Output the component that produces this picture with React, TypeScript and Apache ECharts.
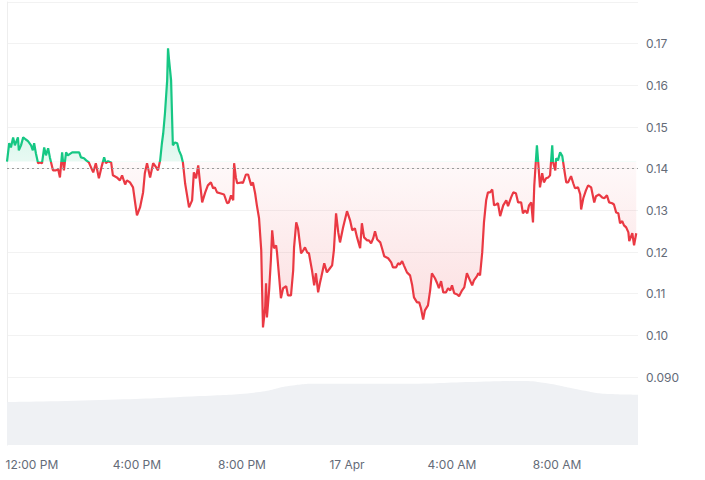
import React, { useEffect, useRef } from "react";
import * as echarts from "echarts";

// minutes since the first sample (≈11:03 AM, 16 Apr)
const priceMinutes = [
  0, 5, 9, 14, 18, 25, 27, 32, 37, 43, 48, 55, 59, 62, 66, 71, 75, 80, 85, 89, 94, 98, 105, 112, 117, 121, 126, 130, 135, 139,
  149, 158, 165, 169, 176, 181, 187, 197, 203, 210, 217, 222, 226, 231, 238, 242, 251, 258, 263, 270, 274, 281, 288, 293, 297, 304, 311, 315, 320, 327,
  334, 341, 345, 350, 354, 357, 361, 366, 368, 370, 375, 377, 379, 384, 389, 393, 398, 402, 407, 416, 423, 427, 432, 437, 441, 446, 453, 459, 466, 471,
  475, 480, 487, 496, 503, 507, 512, 517, 519, 523, 526, 537, 539, 546, 551, 558, 562, 567, 571, 576, 581, 583, 585, 590, 592, 594, 599, 603, 606, 610,
  615, 617, 622, 626, 631, 638, 642, 649, 654, 656, 661, 665, 672, 677, 681, 686, 690, 697, 702, 706, 711, 715, 718, 725, 731, 738, 743, 747, 752, 757,
  761, 768, 777, 784, 789, 795, 800, 807, 811, 816, 823, 827, 832, 837, 841, 846, 853, 857, 862, 871, 878, 882, 889, 894, 898, 903, 907, 914, 921, 926,
  930, 937, 942, 946, 951, 955, 962, 967, 971, 978, 983, 987, 992, 997, 1003, 1008, 1013, 1017, 1022, 1029, 1033, 1040, 1045, 1051, 1058, 1063, 1067, 1074, 1077, 1081,
  1086, 1090, 1095, 1099, 1104, 1109, 1113, 1118, 1122, 1127, 1134, 1141, 1145, 1152, 1157, 1163, 1168, 1175, 1179, 1184, 1189, 1193, 1198, 1202, 1205, 1209, 1211, 1214, 1218, 1223,
  1227, 1232, 1237, 1241, 1246, 1248, 1253, 1255, 1259, 1264, 1269, 1273, 1278, 1282, 1289, 1294, 1298, 1305, 1310, 1312, 1317, 1323, 1328, 1335, 1342, 1346, 1353, 1360, 1365, 1371,
  1376, 1383, 1387, 1392, 1397, 1401, 1406, 1410, 1415, 1420, 1422, 1429, 1433, 1438,
];

const prices = [
  0.1417, 0.1461, 0.1451, 0.1475, 0.1456, 0.1475, 0.1444, 0.1456, 0.1475, 0.147, 0.1466, 0.1456, 0.1444, 0.1461, 0.1437, 0.1413, 0.1415, 0.1413, 0.1451, 0.1432,
  0.1449, 0.1427, 0.1396, 0.1396, 0.1398, 0.1379, 0.1439, 0.1396, 0.1439, 0.1432,
  0.1439, 0.1439, 0.1439, 0.1427, 0.1425, 0.142, 0.1415, 0.1391, 0.1413, 0.1377, 0.1408, 0.1427, 0.1413, 0.1418, 0.1415, 0.1384, 0.1379, 0.1372, 0.1384, 0.1362,
  0.1372, 0.1367, 0.1355, 0.1317, 0.1288, 0.1307, 0.1343, 0.1389, 0.1413, 0.1379,
  0.1413, 0.1403, 0.1396, 0.142, 0.1461, 0.1485, 0.1533, 0.1612, 0.1689, 0.1665, 0.1612, 0.1533, 0.1456, 0.1463, 0.1461, 0.1444, 0.1432, 0.1415, 0.1365, 0.1307,
  0.1324, 0.1391, 0.1377, 0.1408, 0.1367, 0.1319, 0.1343, 0.136, 0.1367, 0.1353,
  0.1355, 0.1343, 0.1341, 0.1338, 0.1317, 0.1319, 0.1336, 0.1324, 0.1413, 0.1379, 0.1365, 0.1367, 0.1365, 0.1386, 0.1386, 0.136, 0.1367, 0.1341, 0.1312, 0.1281,
  0.1204, 0.1108, 0.1019, 0.1067, 0.1125, 0.1043, 0.1108, 0.118, 0.1252, 0.1209,
  0.1216, 0.1199, 0.1139, 0.1089, 0.1113, 0.1118, 0.1096, 0.1096, 0.1156, 0.1211, 0.1271, 0.1257, 0.1197, 0.1204, 0.1211, 0.1199, 0.1197, 0.1156, 0.112, 0.1149,
  0.1103, 0.1125, 0.1139, 0.1173, 0.1151, 0.1161, 0.1168, 0.1204, 0.1293, 0.1247,
  0.1223, 0.1259, 0.1298, 0.1276, 0.1252, 0.1257, 0.1235, 0.1209, 0.1269, 0.1235, 0.1228, 0.1228, 0.1221, 0.1233, 0.125, 0.123, 0.1223, 0.1209, 0.119, 0.1185,
  0.1175, 0.1163, 0.1163, 0.1173, 0.117, 0.1178, 0.1168, 0.1151, 0.1144, 0.112,
  0.1091, 0.1079, 0.1079, 0.1065, 0.1038, 0.106, 0.1072, 0.1108, 0.1149, 0.1137, 0.1125, 0.1113, 0.113, 0.1103, 0.1103, 0.1113, 0.1108, 0.112, 0.1101, 0.1098,
  0.1094, 0.1108, 0.1115, 0.1149, 0.1132, 0.112, 0.1132, 0.1142, 0.1149, 0.1144,
  0.1199, 0.1271, 0.1324, 0.1343, 0.1343, 0.135, 0.1312, 0.1314, 0.1317, 0.1286, 0.1312, 0.1324, 0.131, 0.1331, 0.1343, 0.1341, 0.1319, 0.1319, 0.1293, 0.13,
  0.1293, 0.1312, 0.1319, 0.1271, 0.136, 0.1425, 0.1456, 0.1415, 0.1355, 0.1389,
  0.1367, 0.1377, 0.1379, 0.1384, 0.1456, 0.1415, 0.1396, 0.1425, 0.142, 0.1439, 0.143, 0.1401, 0.1367, 0.1367, 0.1382, 0.1365, 0.1353, 0.1355, 0.1338, 0.1302,
  0.1329, 0.1348, 0.136, 0.1355, 0.1319, 0.1334, 0.1338, 0.1331, 0.1329, 0.1336,
  0.1319, 0.1317, 0.1314, 0.1295, 0.1293, 0.1269, 0.1274, 0.1264, 0.1259, 0.1247, 0.1226, 0.1245, 0.1216, 0.1245,
];

const volumeMinutes = [0, 213, 441, 578, 647, 715, 898, 1081, 1173, 1230, 1310, 1378, 1442];
const volumes = [63, 66, 72, 78, 87, 90, 90, 93, 94, 91, 81, 75, 74];

const windowEnd = 1442;
const tickMinutes = [57, 297, 537, 777, 1017, 1257];
const tickLabels = ["12:00 PM", "4:00 PM", "8:00 PM", "17 Apr", "4:00 AM", "8:00 AM"];

const GREEN = "#16c784";
const RED = "#ea3943";

export default function App() {
  const ref = useRef<HTMLDivElement>(null);

  useEffect(() => {
    if (!ref.current) return;
    const chart = echarts.init(ref.current, undefined, { renderer: "svg" });
    const base = prices[0];
    const maxP = Math.max(...prices);
    const minP = Math.min(...prices);
    const frac = (maxP - base) / (maxP - minP);
    const priceData = priceMinutes.map((m, i) => [m, prices[i]]);
    const volData = volumeMinutes.map((m, i) => [m, volumes[i]]);
    const font = "Inter, 'Noto Sans', sans-serif";

    chart.setOption({
      animation: false,
      grid: [
        { left: 7, right: 67, top: 2, bottom: 103 },
        { left: 7, right: 67, top: 377, bottom: 35 },
      ],
      xAxis: [
        { type: "value", gridIndex: 0, min: 0, max: windowEnd, show: false },
        {
          type: "value",
          gridIndex: 1,
          min: 0,
          max: windowEnd,
          axisLine: { show: false },
          axisTick: { show: false },
          splitLine: { show: false },
          axisLabel: {
            customValues: tickMinutes,
            formatter: (v: number) => {
              const i = tickMinutes.indexOf(Math.round(v));
              return i >= 0 ? tickLabels[i] : "";
            },
            color: "#646b78",
            fontSize: 12,
            fontFamily: font,
            margin: 13,
          },
        },
      ],
      yAxis: [
        {
          type: "value",
          gridIndex: 0,
          position: "right",
          min: 0.09,
          max: 0.18,
          interval: 0.01,
          axisLine: { show: true, lineStyle: { color: "#eeeeee" } },
          axisTick: { show: false },
          splitLine: { show: true, lineStyle: { color: "#f2f2f2", width: 1 } },
          axisLabel: {
            margin: 8,
            color: "#646b78",
            fontSize: 12,
            fontFamily: font,
            formatter: (v: number) => (v > 0.175 ? "" : v < 0.0995 ? v.toFixed(3) : v.toFixed(2)),
          },
        },
        {
          type: "value",
          gridIndex: 1,
          position: "right",
          min: 0,
          max: 100,
          axisLine: { show: true, lineStyle: { color: "#eeeeee" } },
          axisTick: { show: false },
          axisLabel: { show: false },
          splitLine: { show: false },
        },
      ],
      visualMap: {
        type: "piecewise",
        show: false,
        seriesIndex: 1,
        dimension: 1,
        pieces: [
          { gte: 0, lte: base, color: RED },
          { gt: base, lte: 1, color: GREEN },
        ],
        outOfRange: { color: RED },
      },
      series: [
        {
          type: "line",
          xAxisIndex: 1,
          yAxisIndex: 1,
          data: volData,
          smooth: true,
          symbol: "none",
          lineStyle: { width: 0 },
          areaStyle: { color: "#eff1f4", opacity: 1 },
          silent: true,
          z: 1,
        },
        {
          type: "line",
          xAxisIndex: 0,
          yAxisIndex: 0,
          data: priceData,
          symbol: "none",
          showSymbol: false,
          lineStyle: { width: 2.2 },
          areaStyle: {
            origin: base,
            opacity: 1,
            color: new echarts.graphic.LinearGradient(0, 0, 0, 1, [
              { offset: 0, color: "rgba(22,199,132,0.32)" },
              { offset: frac, color: "rgba(22,199,132,0.1)" },
              { offset: frac, color: "rgba(234,57,67,0.03)" },
              { offset: 1, color: "rgba(234,57,67,0.17)" },
            ]),
          },
          markLine: {
            silent: true,
            symbol: ["none", "none"],
            label: { show: false },
            lineStyle: { type: [2, 3], color: "#9a9a9a", width: 1 },
            data: [{ yAxis: base }],
          },
          z: 3,
        },
      ],
    });
    return () => chart.dispose();
  }, []);

  return (
    <div
      ref={ref}
      style={{ position: "fixed", left: 0, top: 0, width: 705, height: 480, background: "#ffffff" }}
    />
  );
}
